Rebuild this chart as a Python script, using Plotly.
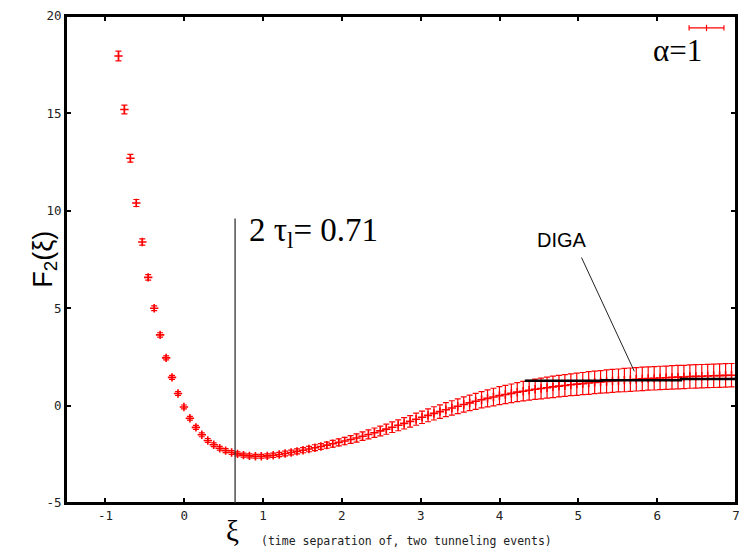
import plotly.graph_objects as go

# ---- data ----
xi = [-0.834, -0.759, -0.683, -0.608, -0.532, -0.457, -0.381, -0.306, -0.230, -0.155,
      -0.079, -0.004, 0.072, 0.148, 0.223, 0.299, 0.374, 0.450, 0.525, 0.601,
      0.676, 0.752, 0.827, 0.903, 0.978, 1.054, 1.129, 1.205, 1.280, 1.356,
      1.431, 1.507, 1.582, 1.658, 1.733, 1.809, 1.884, 1.960, 2.035, 2.111,
      2.186, 2.262, 2.337, 2.413, 2.488, 2.564, 2.639, 2.715, 2.790, 2.866,
      2.942, 3.017, 3.093, 3.168, 3.244, 3.319, 3.395, 3.470, 3.546, 3.621,
      3.697, 3.772, 3.848, 3.923, 3.999, 4.074, 4.150, 4.225, 4.301, 4.376,
      4.452, 4.527, 4.603, 4.678, 4.754, 4.829, 4.905, 4.980, 5.056, 5.131,
      5.207, 5.282, 5.358, 5.433, 5.509, 5.584, 5.660, 5.735, 5.811, 5.886,
      5.962, 6.037, 6.113, 6.188, 6.264, 6.339, 6.415, 6.490, 6.566, 6.641,
      6.717, 6.792, 6.868, 6.943]
F2 = [17.95, 15.20, 12.70, 10.40, 8.40, 6.58, 5.00, 3.63, 2.45, 1.45,
      0.62, -0.07, -0.65, -1.12, -1.50, -1.79, -2.01, -2.19, -2.31, -2.41,
      -2.48, -2.54, -2.58, -2.60, -2.60, -2.58, -2.55, -2.51, -2.46, -2.41,
      -2.35, -2.29, -2.23, -2.16, -2.10, -2.03, -1.96, -1.89, -1.82, -1.74,
      -1.66, -1.57, -1.48, -1.39, -1.30, -1.21, -1.11, -1.01, -0.91, -0.81,
      -0.70, -0.60, -0.50, -0.40, -0.31, -0.21, -0.12, -0.03, 0.06, 0.14,
      0.22, 0.30, 0.37, 0.44, 0.51, 0.57, 0.63, 0.69, 0.74, 0.79,
      0.84, 0.88, 0.92, 0.96, 1.00, 1.03, 1.07, 1.10, 1.13, 1.16,
      1.19, 1.22, 1.24, 1.27, 1.29, 1.31, 1.33, 1.35, 1.37, 1.39,
      1.40, 1.42, 1.43, 1.45, 1.46, 1.47, 1.49, 1.50, 1.51, 1.52,
      1.53, 1.54, 1.55, 1.56]
F2_err = [0.25, 0.22, 0.20, 0.18, 0.16, 0.14, 0.12, 0.11, 0.10, 0.10,
          0.10, 0.10, 0.10, 0.10, 0.10, 0.10, 0.10, 0.10, 0.10, 0.10,
          0.10, 0.10, 0.10, 0.10, 0.10, 0.10, 0.11, 0.11, 0.12, 0.12,
          0.13, 0.13, 0.14, 0.15, 0.15, 0.16, 0.17, 0.18, 0.19, 0.20,
          0.21, 0.22, 0.23, 0.24, 0.25, 0.26, 0.27, 0.28, 0.29, 0.30,
          0.31, 0.32, 0.33, 0.34, 0.35, 0.36, 0.37, 0.38, 0.39, 0.40,
          0.41, 0.42, 0.44, 0.45, 0.46, 0.47, 0.48, 0.49, 0.50, 0.51,
          0.52, 0.53, 0.54, 0.55, 0.55, 0.56, 0.56, 0.57, 0.57, 0.58,
          0.58, 0.58, 0.59, 0.59, 0.59, 0.60, 0.60, 0.60, 0.60, 0.60,
          0.60, 0.60, 0.60, 0.60, 0.60, 0.60, 0.60, 0.60, 0.60, 0.60,
          0.60, 0.60, 0.60, 0.60]

diga_x = [4.32, 5.30, 6.30, 7.00]
diga_y = [1.27, 1.30, 1.36, 1.48]

tau_line_x = 0.645
tau_line_top = 9.6

x_tickvals = [-1, 0, 1, 2, 3, 4, 5, 6, 7]
x_ticktext = ["-1", "0", "1", "2", "3", "4", "5", "6", "7"]
y_tickvals = [-5, 0, 5, 10, 15, 20]
y_ticktext = ["-5", "0", "5", "10", "15", "20"]

RED = "#ff0000"
tickfont = dict(family="DejaVu Sans Mono", size=12.5, color="#222222")

fig = go.Figure()

fig.add_trace(go.Scatter(
    x=xi, y=F2, mode="markers",
    marker=dict(symbol="cross-thin-open", size=6, color=RED, line=dict(color=RED, width=1.6)),
    error_y=dict(type="data", array=F2_err, visible=True, color=RED, thickness=1.2, width=3),
    showlegend=False,
))

fig.add_trace(go.Scatter(
    x=diga_x, y=diga_y, mode="lines", line=dict(color="black", width=2.5, shape="hv"),
    showlegend=False,
))

shapes = [
    dict(type="rect", xref="paper", yref="paper", x0=0, x1=1, y0=0, y1=1,
         line=dict(color="black", width=2), fillcolor="rgba(0,0,0,0)"),
    dict(type="line", xref="x", yref="y", x0=tau_line_x, x1=tau_line_x, y0=-5, y1=tau_line_top,
         line=dict(color="#333333", width=1.3)),
    dict(type="line", xref="x", yref="y", x0=5.04, y0=7.6, x1=5.71, y1=1.76,
         line=dict(color="#222222", width=1)),
    # legend sample (error bar style)
    dict(type="line", xref="paper", yref="paper", x0=0.930, x1=0.982, y0=0.9755, y1=0.9755,
         line=dict(color=RED, width=1.2)),
    dict(type="line", xref="paper", yref="paper", x0=0.930, x1=0.930, y0=0.970, y1=0.981,
         line=dict(color=RED, width=1.2)),
    dict(type="line", xref="paper", yref="paper", x0=0.982, x1=0.982, y0=0.970, y1=0.981,
         line=dict(color=RED, width=1.2)),
    dict(type="line", xref="paper", yref="paper", x0=0.956, x1=0.956, y0=0.969, y1=0.982,
         line=dict(color=RED, width=1.2)),
]

annotations = [
    dict(x=0.79, y=8.9, xref="x", yref="y", xanchor="left", yanchor="middle", showarrow=False,
         text="2 τ<sub>l</sub>= 0.71", font=dict(family="Liberation Serif", size=33, color="black")),
    dict(x=4.79, y=8.5, xref="x", yref="y", xanchor="center", yanchor="middle", showarrow=False,
         text="DIGA", font=dict(family="Liberation Sans", size=20, color="black")),
    dict(x=0.9125, y=0.930, xref="paper", yref="paper", xanchor="center", yanchor="middle",
         showarrow=False, text="α=1", font=dict(family="Liberation Serif", size=31, color="black")),
    dict(x=(25 - 66) / 674.0, y=0.50, xref="paper", yref="paper", showarrow=False, textangle=-90,
         text="F<sub>2</sub>(ξ)", font=dict(family="Liberation Sans", size=27, color="black")),
    dict(x=(233 - 66) / 674.0, y=-0.058, xref="paper", yref="paper", xanchor="center", yanchor="middle",
         showarrow=False, text="ξ", font=dict(family="Liberation Serif", size=29, color="black")),
    dict(x=(260 - 66) / 674.0, y=-0.078, xref="paper", yref="paper", xanchor="left", yanchor="middle",
         showarrow=False, text="(time separation of, two tunneling events)",
         font=dict(family="DejaVu Sans Mono", size=11.5, color="#222222")),
]

fig.update_layout(
    width=748, height=550,
    margin=dict(l=66, r=8, t=14, b=47),
    paper_bgcolor="white", plot_bgcolor="white",
    shapes=shapes, annotations=annotations,
    xaxis=dict(range=[-1.5, 7], tickvals=x_tickvals, ticktext=x_ticktext,
               showgrid=False, zeroline=False, showline=True, linecolor="black", linewidth=2,
               mirror="ticks", ticks="inside", ticklen=5, tickwidth=2, tickcolor="black",
               tickfont=tickfont),
    yaxis=dict(range=[-5, 20], tickvals=y_tickvals, ticktext=y_ticktext,
               showgrid=False, zeroline=False, showline=True, linecolor="black", linewidth=2,
               mirror="ticks", ticks="inside", ticklen=5, tickwidth=2, tickcolor="black",
               tickfont=tickfont),
)

fig.write_html("out.html", config={"displayModeBar": False},
               post_script="document.body.style.margin='0';document.body.style.padding='0';")
